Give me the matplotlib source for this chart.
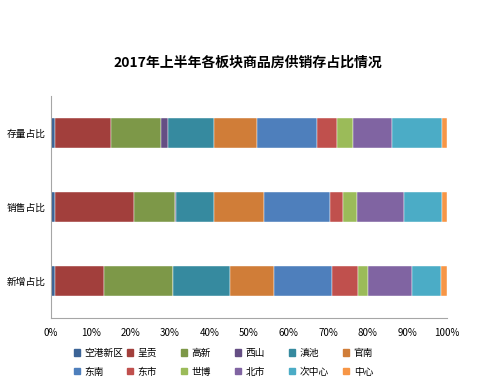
import numpy as np
import matplotlib.pyplot as plt
from matplotlib.patches import Patch

plt.rcParams['font.family'] = ['Noto Sans CJK SC', 'DejaVu Sans']

# 数据（百分比）
categories = ['新增占比', '销售占比', '存量占比']
series = ['空港新区', '呈贡', '高新', '西山', '滇池', '官南',
          '东南', '东市', '世博', '北市', '次中心', '中心']
xinzeng = [1.0, 12.5, 17.4, 0.0, 14.3, 11.1, 14.7, 6.6, 2.5, 11.1, 7.3, 1.5]
xiaoshou = [1.0, 19.9, 10.4, 0.3, 9.6, 12.7, 16.6, 3.3, 3.4, 11.9, 9.6, 1.3]
cunliang = [1.0, 14.2, 12.6, 1.8, 11.6, 10.9, 15.0, 5.0, 4.2, 9.7, 12.8, 1.2]
colors = ['#3C6496', '#A23F3C', '#7D9848', '#654E84', '#368A9F', '#D07D38',
          '#4E7FBC', '#C0504D', '#9BBB59', '#8064A2', '#4BACC6', '#F79646']

data = np.array([xinzeng, xiaoshou, cunliang])
data = data / data.sum(axis=1, keepdims=True) * 100

fig = plt.figure(figsize=(4.96, 3.87), dpi=100)
ax = fig.add_axes([51 / 496, 1 - 318 / 387, 396 / 496, 222 / 387])

y = np.arange(len(categories))
left = np.zeros(len(categories))
for i, name in enumerate(series):
    ax.barh(y, data[:, i], left=left, height=0.4, color=colors[i],
            edgecolor='white', linewidth=0.3, label=name)
    left += data[:, i]

ax.set_xlim(0, 100)
ax.set_ylim(-0.5, 2.5)
ax.set_yticks(y)
ax.set_yticklabels(categories, fontsize=7)
ax.set_xticks(np.arange(0, 101, 10))
ax.set_xticklabels([f'{v}%' for v in range(0, 101, 10)], fontsize=7)
ax.tick_params(length=0, pad=7)
ax.tick_params(axis='y', pad=4)
for s in ['top', 'right']:
    ax.spines[s].set_visible(False)
for s in ['left', 'bottom']:
    ax.spines[s].set_color('#A6A6A6')
    ax.spines[s].set_linewidth(0.8)

fig.text(0.5, 1 - 63 / 387, '2017年上半年各板块商品房供销存占比情况',
         ha='center', va='center', fontsize=10, fontweight='bold')

# 图例：6列2行
col_x = [74, 127, 181, 235, 289, 343]
for c in range(6):
    handles = [Patch(color=colors[c], label=series[c]),
               Patch(color=colors[c + 6], label=series[c + 6])]
    fig.legend(handles=handles, loc='upper left',
               bbox_to_anchor=(col_x[c] / 496, 1 - 348 / 387),
               frameon=False, fontsize=7, handlelength=0.6, handleheight=0.6,
               handletextpad=0.5, labelspacing=0.9, borderpad=0, borderaxespad=0)

fig.savefig('out.png', dpi=100)
